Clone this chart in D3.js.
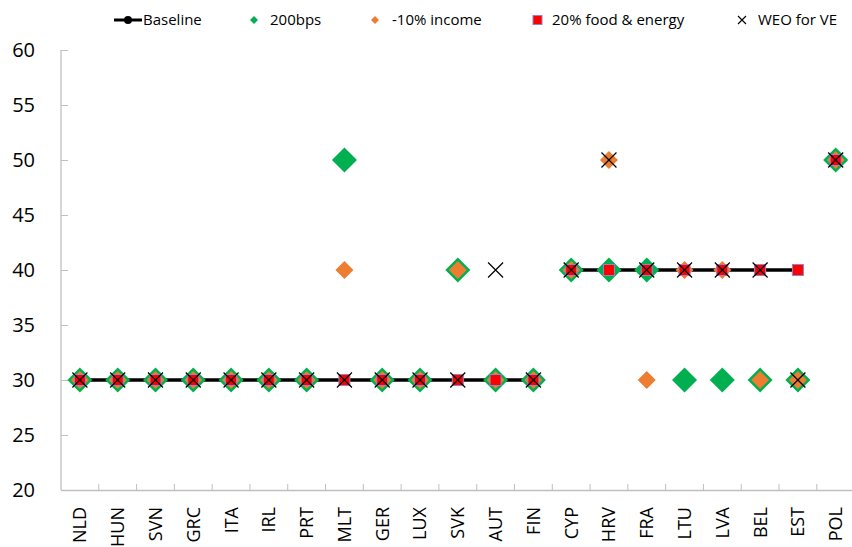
<!DOCTYPE html>
<html><head><meta charset="utf-8">
<script src="https://cdn.jsdelivr.net/npm/d3@7"></script>
<style>body{margin:0;background:#fff;}svg{display:block;font-family:"Open Sans","Noto Sans",sans-serif;}</style>
</head><body>
<svg id="c" width="852" height="547"></svg>
<script>
const categories = ["NLD","HUN","SVN","GRC","ITA","IRL","PRT","MLT","GER","LUX","SVK","AUT","FIN","CYP","HRV","FRA","LTU","LVA","BEL","EST","POL"];
const baseline = [30,30,30,30,30,30,30,30,30,30,30,30,30,40,40,40,40,40,40,40,50];
const bps200   = [30,30,30,30,30,30,30,50,30,30,40,30,30,40,40,40,30,30,30,30,50];
const income   = [30,30,30,30,30,30,30,40,30,30,40,30,30,40,50,30,40,40,30,30,50];
const foodEnergy=[30,30,30,30,30,30,30,30,30,30,30,30,30,40,40,40,40,40,40,40,50];
const weo      = [30,30,30,30,30,30,30,30,30,30,30,40,30,40,50,40,40,40,40,30,50];
const yTicks = [20,25,30,35,40,45,50,55,60];
const legendLabels = ["Baseline","200bps","-10% income","20% food & energy","WEO for VE"];

(function(){
const GREEN="#00b050", ORANGE="#ed7d31", RED="#ff0000", SQB="#9483c6";
const svg = d3.select("#c");
const pL=61, pR=61+21*37.79, pT=50, pB=490;
const x = d3.scaleBand().domain(categories).range([pL,pR]).padding(0);
const y = d3.scaleLinear().domain([20,60]).range([pB,pT]);
const cx = c => x(c)+x.bandwidth()/2;

// axes
const yAxis = svg.append("g").attr("transform",`translate(${pL},0)`)
  .call(d3.axisLeft(y).tickValues(yTicks).tickSize(-7).tickPadding(26).tickFormat(d3.format("d")));
yAxis.select(".domain").attr("stroke","#bfbfbf").attr("stroke-width",1.3).attr("d",`M0,${pT}V${pB}`);
yAxis.selectAll(".tick line").attr("stroke","#bfbfbf");
yAxis.selectAll(".tick text").attr("font-size",20).attr("fill","#000").attr("font-family","Open Sans");

const xAxis = svg.append("g").attr("transform",`translate(0,${pB})`)
  .call(d3.axisBottom(x).tickSize(0).tickFormat(""));
xAxis.select(".domain").attr("stroke","#bfbfbf").attr("stroke-width",1.3);
xAxis.selectAll(".tick").remove();
// boundary ticks
const bounds = d3.range(1,categories.length).map(i=>pL+i*x.bandwidth());
svg.append("g").selectAll("line").data(bounds).join("line")
  .attr("x1",d=>d).attr("x2",d=>d).attr("y1",pB).attr("y2",pB-6)
  .attr("stroke","#bfbfbf");
svg.append("g").selectAll("text").data(categories).join("text")
  .attr("transform",d=>`translate(${cx(d)},507) rotate(-90)`)
  .attr("text-anchor","end").attr("dy","0.36em").attr("font-size",18).text(d=>d);

// baseline runs
const runs=[]; let cur=[0];
for(let i=1;i<baseline.length;i++){ if(baseline[i]===baseline[i-1]) cur.push(i); else {runs.push(cur); cur=[i];} }
runs.push(cur);
const line = d3.line().x(i=>cx(categories[i])).y(i=>y(baseline[i]));
svg.append("g").selectAll("path").data(runs.filter(r=>r.length>1)).join("path")
  .attr("d",line).attr("fill","none").attr("stroke","#000").attr("stroke-width",3.5);
svg.append("g").selectAll("circle").data(baseline).join("circle")
  .attr("cx",(d,i)=>cx(categories[i])).attr("cy",d=>y(d)).attr("r",4).attr("fill","#000");

const diamond = h => `M0,${-h}L${h},0L0,${h}L${-h},0Z`;
svg.append("g").selectAll("path").data(bps200).join("path")
  .attr("transform",(d,i)=>`translate(${cx(categories[i])},${y(d)})`)
  .attr("d",diamond(12.5)).attr("fill",GREEN);
svg.append("g").selectAll("path").data(income).join("path")
  .attr("transform",(d,i)=>`translate(${cx(categories[i])},${y(d)})`)
  .attr("d",diamond(9)).attr("fill",ORANGE);
svg.append("g").selectAll("rect").data(foodEnergy).join("rect")
  .attr("x",(d,i)=>cx(categories[i])-5.5).attr("y",d=>y(d)-5.5).attr("width",11).attr("height",11)
  .attr("fill",RED).attr("stroke",SQB).attr("stroke-width",1);
const xm = h => `M${-h},${-h}L${h},${h}M${-h},${h}L${h},${-h}`;
svg.append("g").selectAll("path").data(weo).join("path")
  .attr("transform",(d,i)=>`translate(${cx(categories[i])},${y(d)})`)
  .attr("d",xm(7.5)).attr("fill","none").attr("stroke","#000").attr("stroke-width",1.2);

// legend
const ly=20;
const lg = svg.append("g").attr("font-size",15);
lg.append("line").attr("x1",114).attr("x2",142).attr("y1",ly).attr("y2",ly).attr("stroke","#000").attr("stroke-width",3);
lg.append("circle").attr("cx",128).attr("cy",ly).attr("r",4).attr("fill","#000");
lg.append("path").attr("transform",`translate(254,${ly})`).attr("d",diamond(4)).attr("fill",GREEN);
lg.append("path").attr("transform",`translate(375,${ly})`).attr("d",diamond(4)).attr("fill",ORANGE);
lg.append("rect").attr("x",533).attr("y",ly-4.5).attr("width",9).attr("height",9).attr("fill",RED).attr("stroke",SQB);
lg.append("path").attr("transform",`translate(742,${ly})`).attr("d",xm(4)).attr("fill","none").attr("stroke","#000").attr("stroke-width",1.1);
const lx=[143,270,392,552,758];
lg.selectAll("text").data(legendLabels).join("text")
  .attr("x",(d,i)=>lx[i]).attr("y",ly).attr("dy","0.35em").text(d=>d);
})();
</script>
</body></html>
